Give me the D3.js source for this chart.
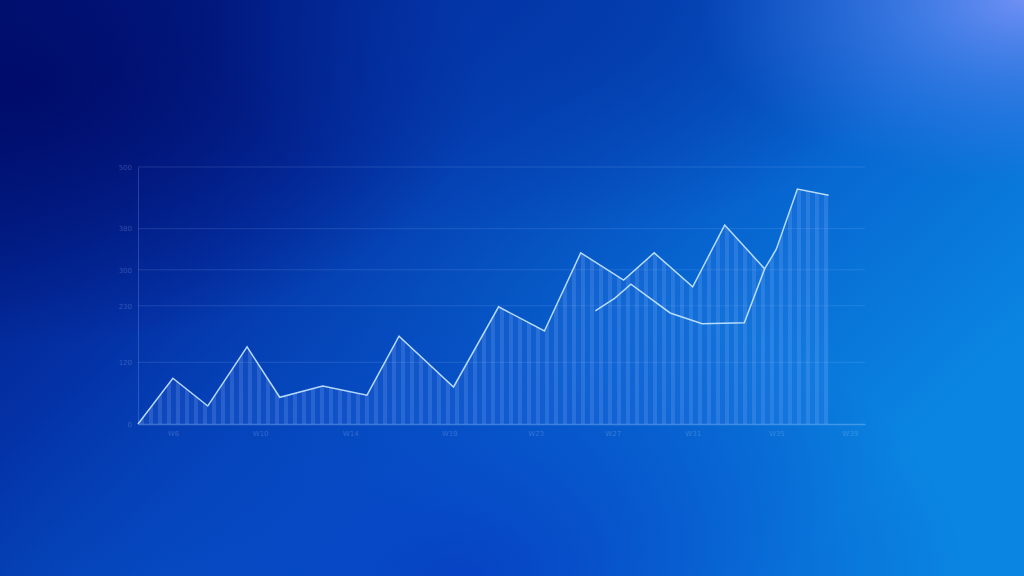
<!DOCTYPE html>
<html><head><meta charset="utf-8">
<script src="https://cdn.jsdelivr.net/npm/d3@7/dist/d3.min.js"></script>
<style>html,body{margin:0;padding:0;overflow:hidden;background:#0a3cc0}</style>
</head><body>
<svg id="c" width="1024" height="576"></svg>
<script>
// ---- data ----
const mainX = [0, 4.8, 9.6, 15.0, 19.5, 25.4, 31.5, 35.9, 43.4, 49.6, 55.9, 60.9, 66.8, 71.0, 76.3, 80.7, 86.2, 87.8, 90.7, 95.0];
const mainY = [0, 89, 35, 150, 52, 74, 56, 171, 72, 228, 181, 333, 280, 333, 267, 387, 302, 340, 457, 445];
const secondX = [62.9, 65.6, 67.8, 73.2, 77.6, 83.4, 86.2];
const secondY = [220, 245, 272, 216, 195, 197, 302];
const yTicks = [0, 120, 230, 300, 380, 500];
const xTickPos = [4.8, 16.8, 29.2, 42.8, 54.7, 65.3, 76.3, 87.8, 97.9];
const xTickLabels = ["W6", "W10", "W14", "W19", "W23", "W27", "W31", "W35", "W39"];

const W = 1024, H = 576;
const svg = d3.select("#c");
const defs = svg.append("defs");

// background gradients
const lg = defs.append("linearGradient").attr("id","bg").attr("x1","0").attr("y1","0").attr("x2","1").attr("y2","0.6");
[["0","#001478"],["0.35","#0433a8"],["0.7","#0765d0"],["1","#0a86e2"]].forEach(s=>lg.append("stop").attr("offset",s[0]).attr("stop-color",s[1]));
const rg1 = defs.append("radialGradient").attr("id","tr").attr("cx","1").attr("cy","0").attr("r","0.32");
rg1.append("stop").attr("offset","0").attr("stop-color","#6f90f4").attr("stop-opacity",1);
rg1.append("stop").attr("offset","0.5").attr("stop-color","#4a7fea").attr("stop-opacity",0.55);
rg1.append("stop").attr("offset","1").attr("stop-color","#3a78e6").attr("stop-opacity",0);
const rg2 = defs.append("radialGradient").attr("id","tl").attr("cx","0.02").attr("cy","0.15").attr("r","0.45");
rg2.append("stop").attr("offset","0").attr("stop-color","#000a68").attr("stop-opacity",0.9);
rg2.append("stop").attr("offset","1").attr("stop-color","#000a68").attr("stop-opacity",0);
const rg3 = defs.append("radialGradient").attr("id","bc").attr("cx","0.45").attr("cy","1").attr("r","0.5");
rg3.append("stop").attr("offset","0").attr("stop-color","#0638c0").attr("stop-opacity",0.8);
rg3.append("stop").attr("offset","1").attr("stop-color","#0638c0").attr("stop-opacity",0);
const rg4 = defs.append("radialGradient").attr("id","tm").attr("cx","0.55").attr("cy","0.05").attr("r","0.35");
rg4.append("stop").attr("offset","0").attr("stop-color","#0338a8").attr("stop-opacity",0.7);
rg4.append("stop").attr("offset","1").attr("stop-color","#0338a8").attr("stop-opacity",0);

svg.append("rect").attr("width",W).attr("height",H).attr("fill","url(#bg)");
svg.append("rect").attr("width",W).attr("height",H).attr("fill","url(#tl)");
svg.append("rect").attr("width",W).attr("height",H).attr("fill","url(#tm)");
svg.append("rect").attr("width",W).attr("height",H).attr("fill","url(#bc)");
svg.append("rect").attr("width",W).attr("height",H).attr("fill","url(#tr)");

// stripe pattern
const pat = defs.append("pattern").attr("id","stripes").attr("patternUnits","userSpaceOnUse")
  .attr("x",138).attr("width",9).attr("height",10);
pat.append("rect").attr("width",9).attr("height",10).attr("fill","rgba(90,140,255,0.12)");
pat.append("rect").attr("x",2).attr("width",4).attr("height",10).attr("fill","rgba(150,190,255,0.18)");

const x = d3.scaleLinear().domain([0,100]).range([138,865]);
const y = d3.scaleLinear().domain([0,500]).range([424,167]);

// grid
svg.append("g").selectAll("line").data(yTicks.filter(d=>d>0)).join("line")
  .attr("x1",x(0)).attr("x2",x(100)).attr("y1",d=>y(d)).attr("y2",d=>y(d))
  .attr("stroke","rgba(170,200,255,0.16)").attr("stroke-width",1);

// area
const mainPts = mainX.map((v,i)=>[v, mainY[i]]);
const secPts = secondX.map((v,i)=>[v, secondY[i]]);
svg.append("path").datum(mainPts)
  .attr("d", d3.area().x(d=>x(d[0])).y0(y(0)).y1(d=>y(d[1])))
  .attr("fill","url(#stripes)");

// axes
const yAxis = d3.axisLeft(y).tickValues(yTicks).tickSize(0).tickPadding(6);
const gy = svg.append("g").attr("transform",`translate(${x(0)},0)`).call(yAxis);
gy.select(".domain").attr("stroke","rgba(170,200,255,0.22)");
gy.selectAll("text").attr("fill","rgba(200,220,255,0.25)").style("font-family","DejaVu Sans").style("font-size","7px");

const xAxis = d3.axisBottom(x).tickValues(xTickPos).tickFormat((d,i)=>xTickLabels[i]).tickSize(0).tickPadding(7);
const gx = svg.append("g").attr("transform",`translate(0,${y(0)})`).call(xAxis);
gx.select(".domain").attr("stroke","rgba(170,210,255,0.35)").attr("stroke-width",1.5);
gx.selectAll("text").attr("fill","rgba(200,220,255,0.25)").style("font-family","DejaVu Sans").style("font-size","7px");

// lines
const line = d3.line().x(d=>x(d[0])).y(d=>y(d[1]));
svg.append("path").datum(mainPts).attr("d",line)
  .attr("fill","none").attr("stroke","rgba(200,232,255,0.9)").attr("stroke-width",1.5).attr("stroke-linejoin","miter");
svg.append("path").datum(secPts).attr("d",line)
  .attr("fill","none").attr("stroke","rgba(200,232,255,0.9)").attr("stroke-width",1.5);
</script>
</body></html>
